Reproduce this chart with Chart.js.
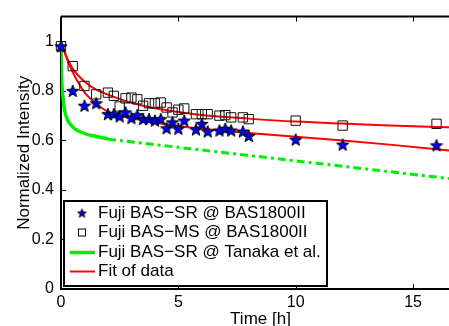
<!DOCTYPE html>
<html>
<head>
<meta charset="utf-8">
<script src="https://cdn.jsdelivr.net/npm/chart.js@4.4.0/dist/chart.umd.min.js"></script>
<style>
  html, body { margin: 0; padding: 0; overflow: hidden; background: #fff; }
  #wrap { width: 470px; height: 326px; }
</style>
</head>
<body>
<div id="wrap"><canvas id="chart"></canvas></div>
<script>
// measurement times [h] (same for both plates)
const timeMeas = [0, 0.5, 1, 1.5, 2, 2.25, 2.5, 2.75, 3, 3.25, 3.5, 3.75, 4, 4.25, 4.5, 4.75, 5, 5.25, 5.75, 6, 6.25, 6.75, 7, 7.25, 7.75, 8, 10, 12, 16];
const intensitySR = [0.98, 0.80, 0.74, 0.75, 0.706, 0.706, 0.697, 0.713, 0.69, 0.702, 0.686, 0.686, 0.68, 0.686, 0.649, 0.673, 0.647, 0.68, 0.644, 0.667, 0.636, 0.64, 0.647, 0.64, 0.636, 0.618, 0.603, 0.583, 0.58];
const intensityMS = [0.98, 0.90, 0.82, 0.786, 0.793, 0.78, 0.737, 0.77, 0.773, 0.766, 0.74, 0.75, 0.75, 0.753, 0.733, 0.713, 0.724, 0.729, 0.706, 0.706, 0.706, 0.70, 0.702, 0.693, 0.693, 0.686, 0.68, 0.66, 0.667];

// fits
const fitTime = [0, 0.25, 0.5, 1, 1.5, 2, 3, 4, 5, 6, 8, 10, 12, 14, 17];
const fitMS = [1.0, 0.935, 0.89, 0.838, 0.805, 0.785, 0.752, 0.73, 0.715, 0.703, 0.688, 0.676, 0.668, 0.66, 0.652];
const fitSR = [1.0, 0.93, 0.875, 0.795, 0.748, 0.716, 0.69, 0.672, 0.658, 0.647, 0.63, 0.615, 0.6, 0.583, 0.555];

// Tanaka et al. (solid part + extrapolation)
const tanakaTime = [0, 0.03, 0.08, 0.17, 0.45, 1, 1.5, 2];
const tanakaVal = [1.0, 0.85, 0.78, 0.715, 0.66, 0.628, 0.616, 0.607];
const tanakaExtTime = [2, 17];
const tanakaExtVal = [0.605, 0.441];

const xTicks = [0, 5, 10, 15];
const yTicks = [0, 0.2, 0.4, 0.6, 0.8, 1];

const FONT = "'Liberation Sans', Arial, Helvetica, sans-serif";

const toXY = (xs, ys) => xs.map((x, i) => ({ x, y: ys[i] }));

// pentagram marker (Chart.js 'star' is just crossed lines)
function makeStar(outer, inner) {
  const size = Math.ceil(outer * 2 + 3);
  const c = document.createElement("canvas");
  c.width = size;
  c.height = size;
  const g = c.getContext("2d");
  const cx = size / 2, cy = size / 2 + 0.5;
  g.beginPath();
  for (let i = 0; i < 10; i++) {
    const r = i % 2 === 0 ? outer : inner;
    const a = -Math.PI / 2 + (i * Math.PI) / 5;
    const px = cx + r * Math.cos(a), py = cy + r * Math.sin(a);
    if (i === 0) g.moveTo(px, py); else g.lineTo(px, py);
  }
  g.closePath();
  g.fillStyle = "#0000ff";
  g.fill();
  g.lineWidth = 1;
  g.strokeStyle = "#000";
  g.stroke();
  return c;
}

const starBig = makeStar(6.5, 2.7);
const starSmall = makeStar(4.6, 1.9);

// MATLAB-like box with inward ticks
const axesBox = {
  id: "axesBox",
  beforeDatasetsDraw(chart) {
    const { ctx, chartArea: a, scales: { x, y } } = chart;
    ctx.save();
    ctx.strokeStyle = "#000";
    ctx.lineWidth = 2;
    ctx.beginPath();
    ctx.moveTo(a.left, a.top);
    ctx.lineTo(a.left, a.bottom);
    ctx.lineTo(a.right, a.bottom);
    ctx.moveTo(a.left, a.top);
    ctx.lineTo(a.right, a.top);
    ctx.stroke();
    ctx.lineWidth = 1;
    ctx.beginPath();
    xTicks.forEach((t) => {
      const px = Math.round(x.getPixelForValue(t)) + 0.5;
      ctx.moveTo(px, a.bottom);
      ctx.lineTo(px, a.bottom - 5);
      ctx.moveTo(px, a.top);
      ctx.lineTo(px, a.top + 5);
    });
    yTicks.forEach((t) => {
      const py = Math.round(y.getPixelForValue(t)) + 0.5;
      ctx.moveTo(a.left, py);
      ctx.lineTo(a.left + 5, py);
    });
    ctx.stroke();
    ctx.restore();
  },
};

// legend box inside the axes
const boxLegend = {
  id: "boxLegend",
  afterDraw(chart) {
    const { ctx } = chart;
    const left = 64, top = 201, w = 263, h = 85;
    ctx.save();
    ctx.fillStyle = "#fff";
    ctx.fillRect(left, top, w, h);
    ctx.lineWidth = 2;
    ctx.strokeStyle = "#000";
    ctx.strokeRect(left, top, w, h);

    const rows = [213, 232.5, 252.5, 271.5];
    chart.data.datasets.filter((d) => d.legendKind).forEach((d, i) => {
      const ry = rows[i];
      if (d.legendKind === "star") {
        ctx.drawImage(starSmall, 82 - starSmall.width / 2, ry - starSmall.height / 2);
      } else if (d.legendKind === "square") {
        ctx.lineWidth = 1;
        ctx.strokeStyle = "#000";
        ctx.strokeRect(78.5, ry - 3.5, 7, 7);
      } else {
        ctx.lineWidth = d.borderWidth;
        ctx.strokeStyle = d.borderColor;
        ctx.beginPath();
        ctx.moveTo(70, ry);
        ctx.lineTo(95, ry);
        ctx.stroke();
      }
      ctx.fillStyle = "#000";
      ctx.font = "17px " + FONT;
      ctx.textBaseline = "middle";
      ctx.textAlign = "left";
      ctx.fillText(d.label, 98, ry);
    });
    ctx.restore();
  },
};

const ctx = document.getElementById("chart").getContext("2d");

new Chart(ctx, {
  type: "scatter",
  data: {
    datasets: [
      {
        label: "Fuji BAS\u2212SR @ BAS1800II",
        legendKind: "star",
        data: toXY(timeMeas, intensitySR),
        pointStyle: starBig,
        clip: false,
      },
      {
        label: "Fuji BAS\u2212MS @ BAS1800II",
        legendKind: "square",
        data: toXY(timeMeas, intensityMS),
        pointStyle: "rect",
        pointRadius: 6.6,
        borderColor: "#111",
        backgroundColor: "rgba(0,0,0,0)",
        borderWidth: 1,
        clip: false,
      },
      {
        label: "Fuji BAS\u2212SR @ Tanaka et al.",
        legendKind: "line",
        type: "line",
        data: toXY(tanakaTime, tanakaVal),
        borderColor: "#00ee00",
        borderWidth: 3.5,
        pointRadius: 0,
        cubicInterpolationMode: "monotone",
        fill: false,
      },
      {
        label: "Tanaka extrapolation",
        type: "line",
        data: toXY(tanakaExtTime, tanakaExtVal),
        borderColor: "#00ee00",
        borderWidth: 3,
        borderDash: [8, 4, 3, 4],
        pointRadius: 0,
        fill: false,
      },
      {
        label: "Fit of data",
        legendKind: "line",
        type: "line",
        data: toXY(fitTime, fitMS),
        borderColor: "#ff0000",
        borderWidth: 2,
        pointRadius: 0,
        cubicInterpolationMode: "monotone",
        fill: false,
      },
      {
        label: "Fit SR",
        type: "line",
        data: toXY(fitTime, fitSR),
        borderColor: "#ff0000",
        borderWidth: 2,
        pointRadius: 0,
        cubicInterpolationMode: "monotone",
        fill: false,
      },
    ],
  },
  options: {
    responsive: true,
    maintainAspectRatio: false,
    animation: false,
    layout: { padding: { top: 12, right: 10, left: 0, bottom: 0 } },
    scales: {
      x: {
        type: "linear",
        min: 0,
        max: 17,
        ticks: {
          stepSize: 5,
          includeBounds: false,
          color: "#000",
          font: { family: FONT, size: 16 },
          padding: 4,
          maxRotation: 0,
        },
        grid: { display: false, drawTicks: false },
        border: { display: false },
        title: {
          display: true,
          text: "Time [h]",
          color: "#000",
          font: { family: FONT, size: 17, lineHeight: 1 },
          padding: { top: 0, bottom: -2 },
        },
        afterFit: (scale) => {
          scale.height = 37;
        },
      },
      y: {
        min: 0,
        max: 1.1,
        ticks: {
          stepSize: 0.2,
          includeBounds: false,
          color: "#000",
          font: { family: FONT, size: 16 },
          padding: 7,
          callback: (v) => String(Math.round(v * 10) / 10),
        },
        grid: { display: false, drawTicks: false },
        border: { display: false },
        title: {
          display: true,
          text: "Normalized Intensity",
          color: "#000",
          font: { family: FONT, size: 17, lineHeight: 1 },
          padding: { top: 16, bottom: 0 },
        },
        afterFit: (scale) => {
          scale.width = 61;
        },
      },
    },
    plugins: {
      legend: { display: false },
      tooltip: { enabled: false },
    },
  },
  plugins: [axesBox, boxLegend],
});
</script>
</body>
</html>
